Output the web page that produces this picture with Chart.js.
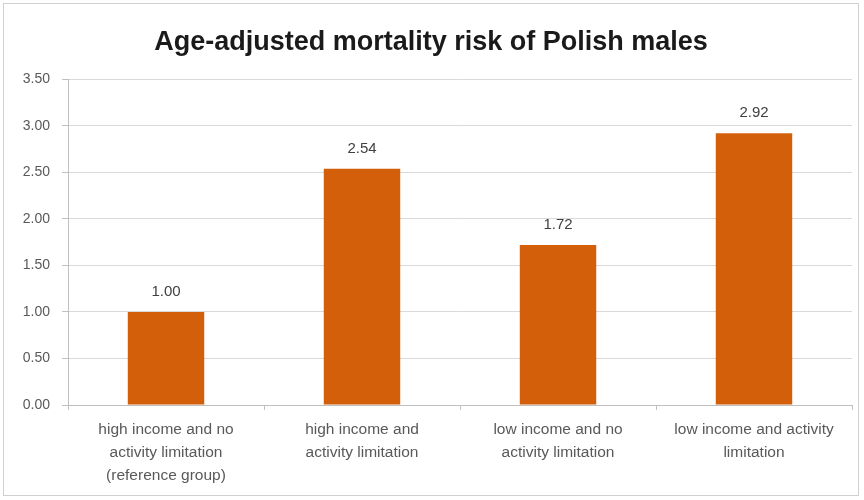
<!DOCTYPE html>
<html><head><meta charset="utf-8">
<script src="https://cdn.jsdelivr.net/npm/chart.js@4"></script>
<style>
html,body{margin:0;padding:0;background:#fff;}
#wrap{position:absolute;left:0;top:0;width:864px;height:500px;}
#frame{position:absolute;left:3px;top:3px;width:856px;height:493px;border:1px solid #d0d0d0;box-sizing:border-box;pointer-events:none;}
</style></head>
<body>
<div id="wrap"><canvas id="c" width="864" height="500"></canvas></div>
<div id="frame"></div>
<script>
const titleText = "Age-adjusted mortality risk of Polish males";
const categories = [
  ["high income and no","activity limitation","(reference group)"],
  ["high income and","activity limitation"],
  ["low income and no","activity limitation"],
  ["low income and activity","limitation"]
];
const riskValues = [1.00, 2.54, 1.72, 2.92];
const yTicks = [0, 0.5, 1.0, 1.5, 2.0, 2.5, 3.0, 3.5];

const FONT = "'Liberation Sans', Arial, sans-serif";

const labelPlugin = {
  id: 'barLabels',
  afterDatasetsDraw(chart) {
    const ctx = chart.ctx;
    const meta = chart.getDatasetMeta(0);
    ctx.save();
    ctx.font = "15px " + FONT;
    ctx.fillStyle = "#404040";
    ctx.textAlign = "center";
    ctx.textBaseline = "middle";
    meta.data.forEach((bar, i) => {
      ctx.fillText(riskValues[i].toFixed(2), bar.x, bar.y - 20);
    });
    ctx.restore();
  }
};

new Chart(document.getElementById('c'), {
  type: 'bar',
  data: {
    labels: categories,
    datasets: [{
      data: riskValues,
      backgroundColor: '#D35F0A',
      borderWidth: 0,
      categoryPercentage: 1.0,
      barPercentage: 0.39
    }]
  },
  options: {
    responsive: false,
    animation: false,
    devicePixelRatio: 1,
    layout: { padding: { left: 10, right: 12, top: 14, bottom: 0 } },
    plugins: {
      legend: { display: false },
      tooltip: { enabled: false },
      title: {
        display: true,
        text: titleText,
        color: '#1a1a1a',
        font: { family: FONT, size: 27, weight: 'bold' },
        padding: { top: 12, bottom: 21 }
      }
    },
    scales: {
      y: {
        min: 0, max: 3.5,
        afterBuildTicks(scale) { scale.ticks = yTicks.map(v => ({ value: v })); },
        afterFit(scale) { scale.width = 58; },
        ticks: {
          color: '#595959',
          font: { family: FONT, size: 14 },
          padding: 12,
          callback: v => Number(v).toFixed(2)
        },
        grid: { color: '#d9d9d9', tickLength: 6, tickColor: '#bfbfbf' },
        border: { color: '#bfbfbf' }
      },
      x: {
        afterFit(scale) { scale.height = 95; },
        ticks: {
          color: '#595959',
          font: { family: FONT, size: 15.5, lineHeight: 1.5 },
          padding: 8,
          maxRotation: 0, autoSkip: false
        },
        grid: { offset: true, drawOnChartArea: false, tickLength: 5, color: '#bfbfbf' },
        border: { color: '#bfbfbf' }
      }
    }
  },
  plugins: [labelPlugin]
});
</script>
</body></html>
